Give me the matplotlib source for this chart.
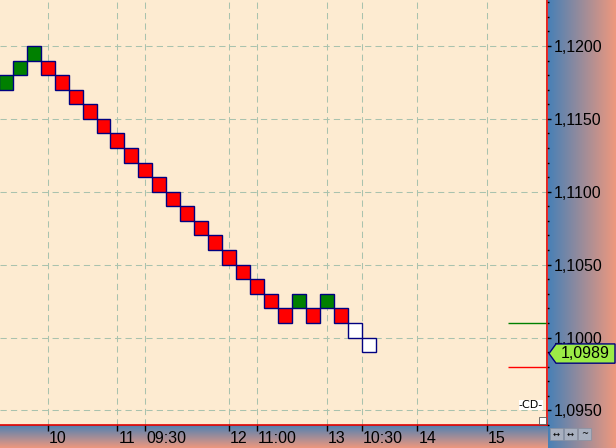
import matplotlib.pyplot as plt
import matplotlib.transforms as mtransforms
from matplotlib.patches import Polygon, Rectangle
import numpy as np

# renko bricks: column index, low of brick, direction
cols = list(range(27))
lows = [1.117, 1.118, 1.119, 1.118, 1.117, 1.116, 1.115, 1.114, 1.113,
        1.112, 1.111, 1.110, 1.109, 1.108, 1.107, 1.106, 1.105, 1.104,
        1.103, 1.102, 1.101, 1.102, 1.101, 1.102, 1.101, 1.100, 1.099]
kinds = ['up', 'up', 'up'] + ['down'] * 18 + ['up', 'down', 'up', 'down', 'open', 'open']
box_size = 0.001

# x axis labels
tick_pos = [3, 8, 10, 16, 18, 23, 25.5, 29.5, 34.5]
tick_labels = ['10', '11', '09:30', '12', '11:00', '13', '10:30', '14', '15']

last_price = 1.0989
next_up = 1.101
next_down = 1.098

W, H = 616, 448
fig = plt.figure(figsize=(W / 100, H / 100), dpi=100)
plt.rcParams['font.family'] = ['Liberation Sans', 'DejaVu Sans']

steel = np.array([72, 128, 182]) / 255
salmon = np.array([238, 152, 126]) / 255

# right price-scale background (horizontal gradient)
axr = fig.add_axes([548 / W, 0, (W - 548) / W, 1])
t = np.linspace(0, 1, 100)
grad = steel[None, :] * (1 - t[:, None]) + salmon[None, :] * t[:, None]
axr.imshow(grad[None, :, :], aspect='auto', extent=(0, 1, 0, 1))
axr.set_axis_off()

# bottom time-scale background (vertical gradient)
axb = fig.add_axes([0, 0, 548 / W, 23 / H])
axb.imshow(grad[:, None, :], aspect='auto', extent=(0, 1, 0, 1))
axb.set_axis_off()

ax = fig.add_axes([0, 23 / H, 547 / W, 425 / H])
ax.set_facecolor('#FDEBD1')

colors = {'up': '#008000', 'down': '#FF0000', 'open': '#FFFFFF'}
ax.bar(cols, [box_size] * len(cols), bottom=lows, width=1.0,
       color=[colors[k] for k in kinds], edgecolor='#000080', linewidth=1.0, zorder=3)

ax.set_xlim(-0.42, 38.79)
ax.set_ylim(1.09404, 1.12315)

# next brick levels
ax.hlines(next_up, 36.0, 38.7, color='#008000', lw=1, zorder=3)
ax.hlines(next_down, 36.0, 38.7, color='#FF0000', lw=1, zorder=3)

# y axis on the right
yt = np.arange(1.095, 1.1201, 0.005)
ax.yaxis.tick_right()
ax.set_yticks(yt)
ax.set_yticklabels([f'{v:.4f}'.replace('.', ',') for v in yt])
ax.set_yticks(np.arange(1.094, 1.1235, 0.001), minor=True)
ax.tick_params(axis='y', which='major', length=3, width=1, pad=2, labelsize=11.5, colors='black')
ax.tick_params(axis='y', which='minor', length=1.5, width=1, colors='black')

ax.set_xticks(tick_pos)
ax.set_xticklabels(tick_labels)
ax.tick_params(axis='x', length=4, width=1, pad=0, labelsize=11.5, colors='black')
offset = mtransforms.ScaledTranslation(1 / 100, 0, fig.dpi_scale_trans)
for lbl in ax.get_xticklabels():
    lbl.set_ha('left')
    lbl.set_transform(lbl.get_transform() + offset)

ax.grid(True, which='major', color='#A9C2AE', lw=0.75, ls=(0, (6, 4)), zorder=1)

for s in ['left', 'top']:
    ax.spines[s].set_visible(False)
for s in ['right', 'bottom']:
    ax.spines[s].set_color('#E00000')
    ax.spines[s].set_linewidth(1.2)

# last price tag
tr = mtransforms.blended_transform_factory(fig.transFigure, ax.transData)
h = 0.00066
tag = Polygon([(549 / W, last_price), (556 / W, last_price + h), (615 / W, last_price + h),
               (615 / W, last_price - h), (556 / W, last_price - h)],
              closed=True, transform=tr, facecolor='#9CEB46', edgecolor='#000080',
              lw=1, clip_on=False, zorder=5)
fig.add_artist(tag)
fig.text(585 / W, last_price, f'{last_price:.4f}'.replace('.', ','), transform=tr,
         ha='center', va='center', fontsize=11.5, color='black', zorder=6)

# small chart widgets
fig.add_artist(Rectangle((519 / W, 1 - 410 / H), 24 / W, 10 / H, facecolor='white',
                         edgecolor='none', transform=fig.transFigure, zorder=4))
fig.text(531 / W, 1 - 405 / H, '-CD-', ha='center', va='center', fontsize=8,
         color='black', family='DejaVu Sans', zorder=5)
fig.add_artist(Rectangle((539 / W, 1 - 424 / H), 7 / W, 7 / H, facecolor='white',
                         edgecolor='#555555', lw=0.6, transform=fig.transFigure, zorder=5))
for i, sym in enumerate(['↔', '↔', '~']):
    x0 = 550 + i * 14
    fig.add_artist(Rectangle((x0 / W, 1 - 440 / H), 13 / W, 12 / H, facecolor='#A8B0C0',
                             edgecolor='#8890A0', lw=0.5, transform=fig.transFigure, zorder=5))
    fig.text((x0 + 6.5) / W, 1 - 434 / H, sym, ha='center', va='center', fontsize=6,
             color='black', family='DejaVu Sans', zorder=6)

fig.savefig('out.png', dpi=100)
